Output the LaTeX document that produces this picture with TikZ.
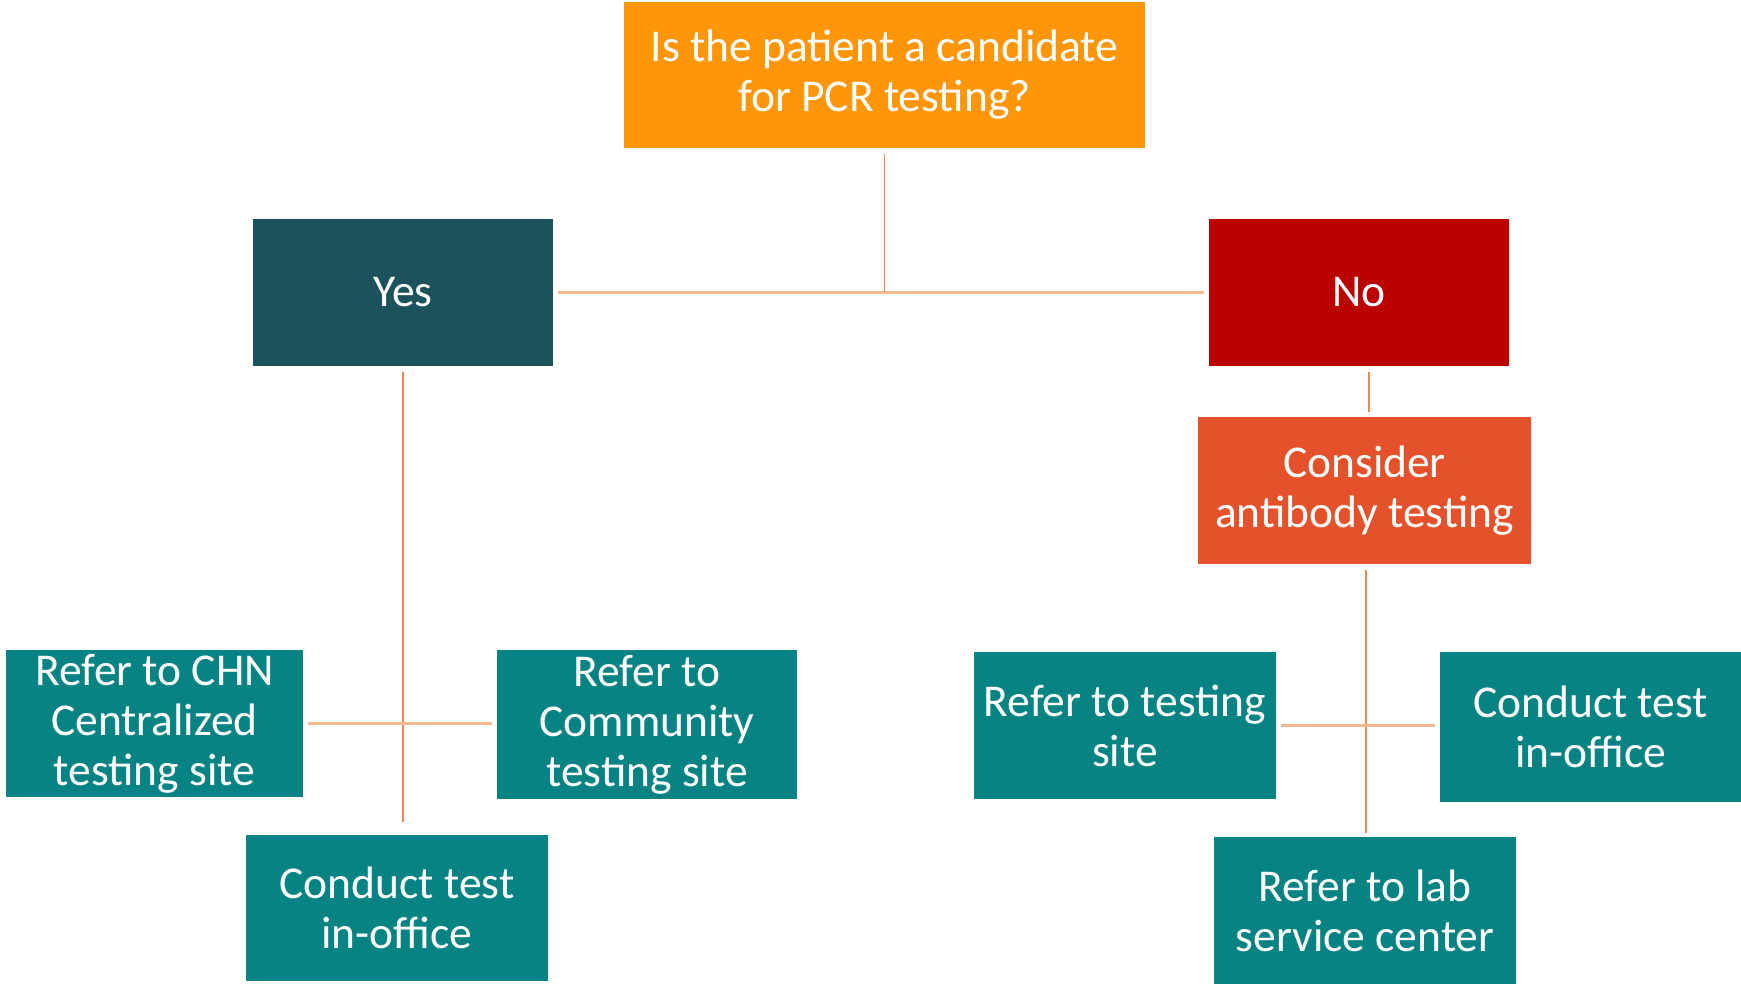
\documentclass[tikz,border=0pt]{standalone}
\usepackage{fontspec}
\setmainfont{Carlito}
\definecolor{cOrange}{HTML}{FF9509}
\definecolor{cYes}{HTML}{1B525C}
\definecolor{cNo}{HTML}{BB0000}
\definecolor{cCons}{HTML}{E5512B}
\definecolor{cTeal}{HTML}{088383}
\definecolor{cLineH}{HTML}{F6B98F}
\definecolor{cLineV}{HTML}{EE8A50}
\tikzset{
  box/.style={rectangle, inner sep=0pt, text=white, align=center,
    font=\fontsize{45.5}{50}\selectfont},
  hline/.style={draw=cLineH, line width=3.5pt},
  vline/.style={draw=cLineV, line width=1.8pt},
}
\begin{document}
\begin{tikzpicture}[x=1pt,y=-1pt]
\useasboundingbox (0,0) rectangle (1741,984);
\node[box, fill=cOrange, minimum width=521pt, minimum height=146pt] (top) at (884.5,75) {Is the patient a candidate\\for PCR testing?};
\node[box, fill=cYes, minimum width=300pt, minimum height=147pt] (yes) at (403,292.5) {Yes};
\node[box, fill=cNo, minimum width=300pt, minimum height=147pt] (no) at (1359,292.5) {No};
\node[box, fill=cCons, minimum width=333pt, minimum height=147pt] (cons) at (1364.5,490.5) {Consider\\antibody testing};
\node[box, fill=cTeal, minimum width=297pt, minimum height=147pt] (chn) at (154.5,723.5) {Refer to CHN\\Centralized\\testing site};
\node[box, fill=cTeal, minimum width=300pt, minimum height=149pt] (comm) at (647,724.5) {Refer to\\Community\\testing site};
\node[box, fill=cTeal, minimum width=302pt, minimum height=146pt] (offL) at (397,908) {Conduct test\\in-office};
\node[box, fill=cTeal, minimum width=302pt, minimum height=147pt] (site) at (1125,725.5) {Refer to testing\\site};
\node[box, fill=cTeal, minimum width=301pt, minimum height=150pt] (offR) at (1590.5,727) {Conduct test\\in-office};
\node[box, fill=cTeal, minimum width=302pt, minimum height=147pt] (lab) at (1365,910.5) {Refer to lab\\service center};
\coordinate (yesEnd) at (403,822);
\coordinate (consEnd) at (1366,833);
\coordinate (noLine) at (1369,400);
% top connectors
\draw[hline, shorten <=5pt, shorten >=5pt] (yes.east) -- (no.west);
\draw[vline, shorten <=6pt] (top.south) -- (top.south |- yes.east);
% left tree
\draw[vline, shorten <=6pt] (yes.south) -- (yesEnd);
\draw[hline, shorten <=5pt, shorten >=5pt] (chn.east) -- (chn.east -| comm.west);
% right tree
\draw[vline, shorten <=6pt, shorten >=5pt] (no.south -| noLine) -- (cons.north -| noLine);
\draw[vline, shorten <=6pt] (cons.south -| consEnd) -- (consEnd);
\draw[hline, shorten <=5pt, shorten >=5pt] (site.east) -- (site.east -| offR.west);
\end{tikzpicture}
\end{document}
